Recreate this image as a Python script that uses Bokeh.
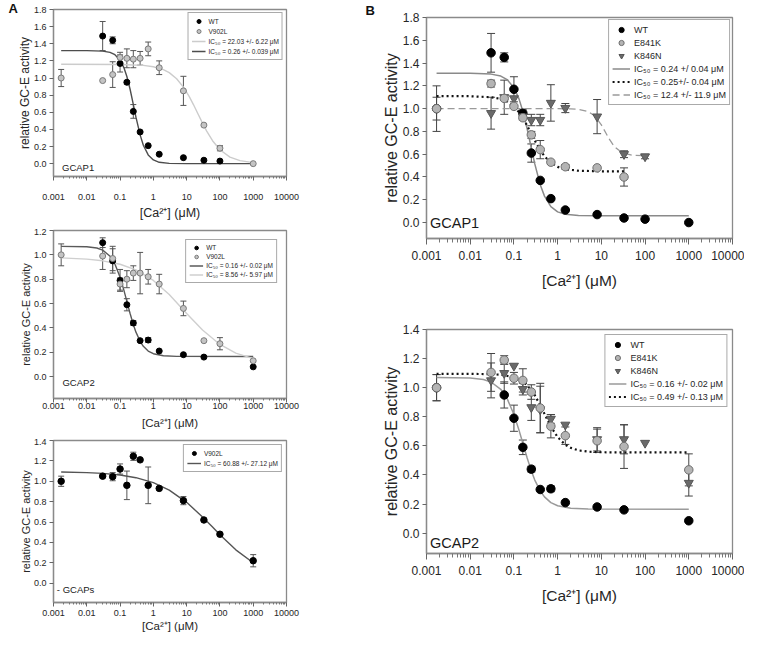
from bokeh.plotting import figure
from bokeh.models import (ColumnDataSource, Whisker, TeeHead, Legend, LegendItem, Label, Title,
                          FixedTicker, CustomJSTickFormatter, NumeralTickFormatter)
from bokeh.layouts import row, column
from bokeh.embed import file_html
from bokeh.resources import INLINE

FONT = "Liberation Sans"

# ---------------- axis ticks / labels ----------------
X_TICKS = [0.001, 0.01, 0.1, 1, 10, 100, 1000, 10000]
X_TICK_LABELS = ["0.001", "0.01", "0.1", "1", "10", "100", "1000", "10000"]
X_LABEL = "[Ca²⁺] (μM)"
Y_LABEL = "relative GC-E activity"
Y_TICKS_18 = [0.0, 0.2, 0.4, 0.6, 0.8, 1.0, 1.2, 1.4, 1.6, 1.8]
Y_TICKS_12 = [0.0, 0.2, 0.4, 0.6, 0.8, 1.0, 1.2]
Y_TICKS_14 = [0.0, 0.2, 0.4, 0.6, 0.8, 1.0, 1.2, 1.4]

# ---------------- Panel A1 : GCAP1, WT vs V902L ----------------
A1_WT_X = [0.03, 0.06, 0.1, 0.16, 0.25, 0.4, 0.7, 1.5, 8, 33, 100]
A1_WT_Y = [1.49, 1.44, 1.17, 0.95, 0.61, 0.37, 0.21, 0.11, 0.07, 0.04, 0.03]
A1_WT_ERR = [0.17, 0.04, 0.10, 0.02, 0.08, 0.0, 0.0, 0.0, 0.0, 0.0, 0.0]
A1_V_X = [0.0017, 0.03, 0.06, 0.1, 0.16, 0.25, 0.4, 0.7, 1.5, 8, 33, 100, 1000]
A1_V_Y = [1.0, 0.97, 1.04, 1.24, 1.23, 1.22, 1.23, 1.34, 1.12, 0.85, 0.45, 0.18, 0.0]
A1_V_ERR = [0.10, 0.0, 0.15, 0.06, 0.11, 0.10, 0.08, 0.08, 0.08, 0.17, 0.0, 0.03, 0.0]
A1_WT_FIT_X = [0.0017, 0.01, 0.03, 0.05, 0.07, 0.1, 0.13, 0.16, 0.2, 0.26, 0.3, 0.4, 0.5, 0.7, 1, 1.5, 3, 10, 1000]
A1_WT_FIT_Y = [1.32, 1.32, 1.314, 1.299, 1.272, 1.209, 1.122, 1.018, 0.869, 0.66, 0.543, 0.336, 0.215, 0.102, 0.044, 0.016, 0.003, 0.0, 0.0]
A1_V_FIT_X = [0.0017, 0.1, 0.5, 1, 2, 3, 5, 8, 12, 16, 22, 30, 40, 60, 100, 200, 400, 1000]
A1_V_FIT_Y = [1.16, 1.158, 1.148, 1.132, 1.098, 1.063, 0.992, 0.894, 0.782, 0.690, 0.58, 0.473, 0.380, 0.268, 0.162, 0.076, 0.035, 0.012]

# ---------------- Panel A2 : GCAP2, WT vs V902L ----------------
A2_WT_X = [0.03, 0.06, 0.1, 0.16, 0.25, 0.4, 0.7, 1.5, 8, 33, 1000]
A2_WT_Y = [1.10, 0.95, 0.79, 0.59, 0.44, 0.295, 0.30, 0.21, 0.18, 0.16, 0.08]
A2_WT_ERR = [0.04, 0.10, 0.09, 0.05, 0.02, 0.0, 0.02, 0.0, 0.0, 0.0, 0.0]
A2_V_X = [0.0017, 0.03, 0.06, 0.1, 0.16, 0.25, 0.4, 0.7, 1.5, 8, 33, 100, 1000]
A2_V_Y = [1.0, 0.99, 0.97, 0.76, 0.80, 0.85, 0.85, 0.82, 0.76, 0.56, 0.295, 0.27, 0.13]
A2_V_ERR = [0.09, 0.11, 0.10, 0.05, 0.07, 0.06, 0.17, 0.06, 0.08, 0.06, 0.0, 0.05, 0.0]
A2_WT_FIT_X = [0.0017, 0.01, 0.02, 0.03, 0.05, 0.07, 0.1, 0.13, 0.16, 0.2, 0.25, 0.3, 0.4, 0.5, 0.7, 1, 2, 5, 1000]
A2_WT_FIT_Y = [1.07, 1.066, 1.056, 1.039, 0.989, 0.925, 0.816, 0.710, 0.618, 0.518, 0.428, 0.365, 0.290, 0.249, 0.210, 0.188, 0.171, 0.166, 0.165]
A2_V_FIT_X = [0.0017, 0.01, 0.03, 0.1, 0.3, 1, 3, 10, 30, 100, 300, 1000]
A2_V_FIT_Y = [0.975, 0.965, 0.951, 0.923, 0.876, 0.790, 0.674, 0.519, 0.382, 0.264, 0.193, 0.148]

# ---------------- Panel A3 : - GCAPs, V902L ----------------
A3_X = [0.0017, 0.03, 0.06, 0.1, 0.16, 0.25, 0.4, 0.7, 1.5, 8, 33, 100, 1000]
A3_Y = [1.0, 1.05, 1.045, 1.12, 0.96, 1.245, 1.21, 0.96, 0.93, 0.81, 0.62, 0.48, 0.22]
A3_ERR = [0.05, 0.01, 0.04, 0.05, 0.14, 0.04, 0.0, 0.18, 0.0, 0.04, 0.0, 0.0, 0.06]
A3_FIT_X = [0.0017, 0.01, 0.03, 0.1, 0.3, 1, 3, 10, 30, 60, 100, 300, 1000]
A3_FIT_Y = [1.091, 1.085, 1.077, 1.061, 1.035, 0.986, 0.913, 0.793, 0.650, 0.55, 0.475, 0.327, 0.2]

# ---------------- Panel B1 : GCAP1, WT / E841K / K846N ----------------
B1_WT_X = [0.0017, 0.03, 0.06, 0.1, 0.16, 0.25, 0.4, 0.7, 1.5, 8, 33, 100, 1000]
B1_WT_Y = [1.0, 1.49, 1.45, 1.17, 0.96, 0.61, 0.37, 0.21, 0.11, 0.07, 0.04, 0.03, 0.0]
B1_WT_ERR = [0.10, 0.17, 0.04, 0.11, 0.03, 0.08, 0.0, 0.0, 0.0, 0.0, 0.0, 0.0, 0.0]
B1_E_X = [0.0017, 0.03, 0.06, 0.1, 0.16, 0.25, 0.4, 0.7, 1.5, 8, 33]
B1_E_Y = [1.0, 1.22, 1.09, 1.02, 0.92, 0.77, 0.64, 0.53, 0.49, 0.48, 0.40]
B1_E_ERR = [0.20, 0.03, 0.0, 0.0, 0.02, 0.03, 0.08, 0.0, 0.02, 0.0, 0.08]
B1_K_X = [0.03, 0.06, 0.1, 0.16, 0.25, 0.4, 0.7, 1.5, 8, 33, 100]
B1_K_Y = [0.96, 1.10, 1.09, 0.93, 0.90, 0.90, 1.05, 1.005, 0.93, 0.60, 0.58]
B1_K_ERR = [0.14, 0.15, 0.0, 0.0, 0.05, 0.05, 0.16, 0.04, 0.15, 0.03, 0.02]
B1_WT_FIT_X = [0.0017, 0.01, 0.03, 0.05, 0.07, 0.1, 0.13, 0.16, 0.2, 0.24, 0.3, 0.4, 0.5, 0.7, 1, 1.5, 3, 10, 100, 1000]
B1_WT_FIT_Y = [1.31, 1.31, 1.303, 1.286, 1.255, 1.184, 1.088, 0.977, 0.825, 0.685, 0.515, 0.332, 0.232, 0.14, 0.094, 0.073, 0.062, 0.06, 0.06, 0.06]
B1_E_FIT_X = [0.0017, 0.01, 0.03, 0.05, 0.07, 0.1, 0.13, 0.16, 0.2, 0.25, 0.3, 0.4, 0.5, 0.7, 1, 1.5, 3, 10, 33]
B1_E_FIT_Y = [1.11, 1.109, 1.10, 1.085, 1.062, 1.019, 0.970, 0.918, 0.852, 0.78, 0.720, 0.635, 0.582, 0.525, 0.489, 0.468, 0.455, 0.45, 0.45]
B1_K_FIT_X = [0.0017, 0.1, 1, 2, 3, 5, 7, 10, 12.4, 15, 20, 30, 50, 100]
B1_K_FIT_Y = [1.0, 1.0, 1.0, 0.998, 0.994, 0.974, 0.937, 0.857, 0.793, 0.735, 0.665, 0.612, 0.591, 0.586]

# ---------------- Panel B2 : GCAP2, WT / E841K / K846N ----------------
B2_WT_X = [0.0017, 0.06, 0.1, 0.16, 0.25, 0.4, 0.7, 1.5, 8, 33, 1000]
B2_WT_Y = [1.0, 0.95, 0.79, 0.59, 0.44, 0.30, 0.305, 0.21, 0.18, 0.16, 0.085]
B2_WT_ERR = [0.09, 0.09, 0.09, 0.05, 0.02, 0.0, 0.02, 0.0, 0.0, 0.0, 0.0]
B2_E_X = [0.0017, 0.03, 0.06, 0.1, 0.16, 0.25, 0.4, 0.7, 1.5, 8, 33, 1000]
B2_E_Y = [1.0, 1.105, 1.19, 1.065, 1.05, 0.97, 0.86, 0.735, 0.67, 0.635, 0.595, 0.435]
B2_E_ERR = [0.09, 0.13, 0.03, 0.04, 0.08, 0.05, 0.17, 0.08, 0.06, 0.08, 0.15, 0.11]
B2_K_X = [0.03, 0.06, 0.1, 0.16, 0.25, 0.4, 0.7, 1.5, 8, 33, 100, 1000]
B2_K_Y = [1.05, 1.10, 1.15, 0.99, 0.865, 0.85, 0.785, 0.745, 0.645, 0.645, 0.62, 0.345]
B2_K_ERR = [0.12, 0.07, 0.0, 0.04, 0.09, 0.16, 0.03, 0.0, 0.08, 0.10, 0.0, 0.09]
B2_WT_FIT_X = [0.0017, 0.01, 0.02, 0.03, 0.05, 0.07, 0.1, 0.13, 0.16, 0.2, 0.25, 0.3, 0.4, 0.5, 0.7, 1, 2, 5, 1000]
B2_WT_FIT_Y = [1.07, 1.066, 1.056, 1.039, 0.989, 0.925, 0.816, 0.710, 0.618, 0.518, 0.428, 0.365, 0.290, 0.249, 0.210, 0.188, 0.171, 0.166, 0.165]
B2_E_FIT_X = [0.0017, 0.01, 0.03, 0.05, 0.1, 0.15, 0.2, 0.3, 0.4, 0.5, 0.7, 1, 1.5, 2, 3, 5, 10, 100, 1000]
B2_E_FIT_Y = [1.095, 1.095, 1.093, 1.089, 1.073, 1.049, 1.018, 0.948, 0.879, 0.820, 0.733, 0.660, 0.607, 0.586, 0.569, 0.560, 0.556, 0.555, 0.555]

MINOR = [m * 10.0 ** k for k in range(-3, 4) for m in range(2, 10)]


def make_panel(w, h, bl, br, bt, bb, yr, yticks, s):
    p = figure(width=w, height=h, x_axis_type="log", x_range=(0.001, 10000), y_range=yr,
               output_backend="svg", toolbar_location=None, title=None,
               min_border_left=bl, min_border_right=br, min_border_top=bt, min_border_bottom=bb)
    p.xgrid.visible = False
    p.ygrid.visible = False
    p.outline_line_color = "#8a8a8a"
    p.outline_line_width = 1.3
    p.background_fill_color = "white"
    p.border_fill_color = "white"
    xa = p.xaxis[0]
    ya = p.yaxis[0]
    xa.ticker = FixedTicker(ticks=X_TICKS, minor_ticks=MINOR)
    xa.formatter = CustomJSTickFormatter(args=dict(vals=X_TICKS, labels=X_TICK_LABELS),
                                         code="const i = vals.indexOf(tick); return i >= 0 ? labels[i] : '';")
    ya.ticker = FixedTicker(ticks=yticks)
    ya.formatter = NumeralTickFormatter(format="0.0")
    for ax in (xa, ya):
        ax.axis_line_color = "#8a8a8a"
        ax.axis_line_width = 1.3
        ax.major_tick_line_color = "#666666"
        ax.minor_tick_line_color = "#777777"
        ax.major_label_text_font = FONT
        ax.axis_label_text_font = FONT
        ax.axis_label_text_font_style = "normal"
        ax.major_label_text_color = "#262626"
        ax.axis_label_text_color = "#262626"
        ax.major_label_text_font_size = s["tick"]
        ax.major_tick_in = 0
    xa.major_tick_out = s["xto"]
    xa.minor_tick_out = s["xto"] - 2
    xa.minor_tick_in = 0
    xa.major_label_standoff = s["xls"]
    xa.axis_label = X_LABEL
    xa.axis_label_text_font_size = s["xlab"]
    xa.axis_label_standoff = s["xas"]
    ya.major_tick_out = 4
    ya.minor_tick_line_color = None
    ya.major_label_standoff = s["yls"]
    ya.axis_label = Y_LABEL
    ya.axis_label_text_font_size = s["ylab"]
    ya.axis_label_standoff = s["yas"]
    return p


def add_series(p, xs, ys, errs, marker, size, fill, line, wcol, head):
    bx, lo, hi = [], [], []
    for x, y, e in zip(xs, ys, errs):
        if e > 0:
            bx.append(x)
            lo.append(y - e)
            hi.append(y + e)
    if bx:
        wsrc = ColumnDataSource(dict(base=bx, lower=lo, upper=hi))
        wk = Whisker(source=wsrc, base="base", lower="lower", upper="upper",
                     line_color=wcol, line_width=1, level="underlay",
                     upper_head=TeeHead(size=head, line_color=wcol, line_width=1),
                     lower_head=TeeHead(size=head, line_color=wcol, line_width=1))
        p.add_layout(wk)
    src = ColumnDataSource(dict(x=xs, y=ys))
    return p.scatter("x", "y", source=src, marker=marker, size=size,
                     fill_color=fill, line_color=line, line_width=1)


def add_fit(p, xs, ys, color, width, dash="solid"):
    src = ColumnDataSource(dict(x=xs, y=ys))
    return p.line("x", "y", source=src, line_color=color, line_width=width, line_dash=dash)


def add_legend(p, items, fs, rowh, gw, margin, pad, standoff):
    lg = Legend(items=[LegendItem(label=t, renderers=[r]) for t, r in items],
                location="top_right", margin=margin, padding=pad, spacing=0,
                label_height=rowh, glyph_height=rowh, glyph_width=gw, label_standoff=standoff,
                label_text_font=FONT, label_text_font_size=fs, label_text_color="#262626",
                border_line_color="#555555", border_line_width=1.2,
                background_fill_color="white", background_fill_alpha=1.0)
    p.add_layout(lg)


def add_text(p, x, y, t, fs):
    p.add_layout(Label(x=x, y=y, text=t, text_font=FONT, text_font_size=fs,
                       text_color="#1a1a1a", text_align="left", text_baseline="middle"))


def add_letter(p, t, offset, standoff):
    p.add_layout(Title(text=t, align="left", offset=offset, standoff=standoff, text_font=FONT,
                       text_font_size="13px", text_font_style="bold", text_color="#111111"),
                 "above")


SA1 = dict(tick="9px", xto=4, xls=13, xlab="12.5px", xas=3, yls=3, ylab="12px", yas=-1)
SA2 = dict(tick="9px", xto=4, xls=0, xlab="11.5px", xas=5, yls=3, ylab="11px", yas=-1)
SA3 = dict(tick="9px", xto=4, xls=3, xlab="11.5px", xas=1, yls=3, ylab="11px", yas=-1)
SB = dict(tick="12px", xto=6, xls=6, xlab="15.5px", xas=9, yls=3, ylab="16px", yas=0)

GRAY_A = "#c4c4c4"
GRAY_A_LINE = "#7a7a7a"

# ---------- A1 ----------
a1 = make_panel(364, 228, 45, 74, 9, 52, (-0.15, 1.8), Y_TICKS_18, SA1)
add_letter(a1, "A", -45, -12)
f1 = add_fit(a1, A1_V_FIT_X, A1_V_FIT_Y, "#cccccc", 1.4)
f2 = add_fit(a1, A1_WT_FIT_X, A1_WT_FIT_Y, "#4d4d4d", 1.4)
r1 = add_series(a1, A1_WT_X, A1_WT_Y, A1_WT_ERR, "circle", 6, "black", "black", "#555555", 6)
r2 = add_series(a1, A1_V_X, A1_V_Y, A1_V_ERR, "circle", 6, GRAY_A, GRAY_A_LINE, "#555555", 6)
add_legend(a1, [("WT", r1), ("V902L", r2), ("IC₅₀ = 22.03 +/- 6.22 μM", f1),
                ("IC₅₀ = 0.26 +/- 0.039 μM", f2)], "6.5px", 10, 14, 3, 3, 3)
add_text(a1, 0.0018, -0.045, "GCAP1", "9.5px")

# ---------- A2 ----------
a2 = make_panel(364, 210, 53, 77, 2, 40, (-0.18, 1.2), Y_TICKS_12, SA2)
g1 = add_fit(a2, A2_WT_FIT_X, A2_WT_FIT_Y, "#5a5a5a", 1.4)
g2 = add_fit(a2, A2_V_FIT_X, A2_V_FIT_Y, "#cfcfcf", 1.4)
s1 = add_series(a2, A2_WT_X, A2_WT_Y, A2_WT_ERR, "circle", 6, "black", "black", "#555555", 6)
s2 = add_series(a2, A2_V_X, A2_V_Y, A2_V_ERR, "circle", 6, GRAY_A, GRAY_A_LINE, "#555555", 6)
add_legend(a2, [("WT", s1), ("V902L", s2), ("IC₅₀ = 0.16 +/- 0.02 μM", g1),
                ("IC₅₀ = 8.56 +/- 5.97 μM", g2)], "6.5px", 9, 14, 9, 3, 3)
add_text(a2, 0.00186, -0.05, "GCAP2", "9.5px")

# ---------- A3 ----------
a3 = make_panel(364, 202, 52, 78, 2, 38, (-0.19, 1.4), Y_TICKS_14, SA3)
h1 = add_fit(a3, A3_FIT_X, A3_FIT_Y, "#555555", 1.4)
t1 = add_series(a3, A3_X, A3_Y, A3_ERR, "circle", 6.5, "black", "black", "#555555", 6)
add_legend(a3, [("V902L", t1), ("IC₅₀ = 60.88 +/- 27.12 μM", h1)], "6.5px", 10, 14, 4, 3, 3)
add_text(a3, 0.00126, -0.063, "- GCAPs", "9.5px")

# ---------- B1 ----------
b1 = make_panel(380, 312, 61, 12, 16, 74, (-0.14, 1.8), Y_TICKS_18, SB)
add_letter(b1, "B", -61, 0)
k1 = add_fit(b1, B1_WT_FIT_X, B1_WT_FIT_Y, "#8a8a8a", 1.5)
k2 = add_fit(b1, B1_E_FIT_X, B1_E_FIT_Y, "#111111", 2.2, "2 3")
k3 = add_fit(b1, B1_K_FIT_X, B1_K_FIT_Y, "#9a9a9a", 1.3, "7 4")
u1 = add_series(b1, B1_WT_X, B1_WT_Y, B1_WT_ERR, "circle", 8.5, "black", "black", "#444444", 8)
u3 = add_series(b1, B1_K_X, B1_K_Y, B1_K_ERR, "inverted_triangle", 9, "#6a6a6a", "#555555", "#444444", 8)
u2 = add_series(b1, B1_E_X, B1_E_Y, B1_E_ERR, "circle", 8.5, "#b4b4b4", "#6e6e6e", "#444444", 8)
add_legend(b1, [("WT", u1), ("E841K", u2), ("K846N", u3), ("IC₅₀ = 0.24 +/ 0.04 μM", k1),
                ("IC₅₀ = 0.25+/- 0.04 μM", k2), ("IC₅₀ = 12.4 +/- 11.9 μM", k3)], "9px", 13, 18, 2, 3, 4)
add_text(b1, 0.0012, 0.0, "GCAP1", "14.5px")

# ---------- B2 ----------
b2 = make_panel(380, 328, 62, 10, 17, 87, (-0.14, 1.4), Y_TICKS_14, SB)
m1 = add_fit(b2, B2_WT_FIT_X, B2_WT_FIT_Y, "#9a9a9a", 1.5)
m2 = add_fit(b2, B2_E_FIT_X, B2_E_FIT_Y, "#111111", 2.2, "2 3")
v1 = add_series(b2, B2_WT_X, B2_WT_Y, B2_WT_ERR, "circle", 8.5, "black", "black", "#444444", 8)
v3 = add_series(b2, B2_K_X, B2_K_Y, B2_K_ERR, "inverted_triangle", 9, "#6a6a6a", "#555555", "#444444", 8)
v2 = add_series(b2, B2_E_X, B2_E_Y, B2_E_ERR, "circle", 8.5, "#b4b4b4", "#6e6e6e", "#444444", 8)
add_legend(b2, [("WT", v1), ("E841K", v2), ("K846N", v3), ("IC₅₀ = 0.16 +/- 0.02 μM", m1),
                ("IC₅₀ = 0.49 +/- 0.13 μM", m2)], "9px", 13, 18, 5, 3, 4)
add_text(b2, 0.0012, -0.07, "GCAP2", "14.5px")

layout = row(column(a1, a2, a3), column(b1, b2))
open("out.html", "w").write(file_html(layout, INLINE))
